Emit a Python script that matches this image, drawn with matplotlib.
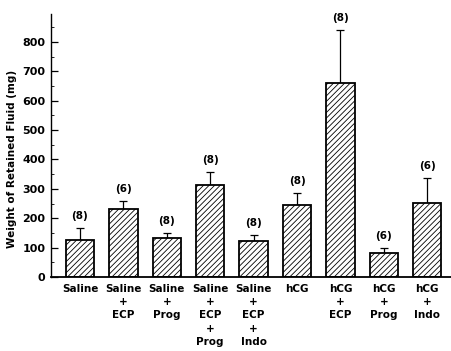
import numpy as np
import matplotlib
matplotlib.use("Agg")
import matplotlib.pyplot as plt
from matplotlib.ticker import MultipleLocator

plt.rcParams['font.family'] = ['Liberation Sans Narrow', 'DejaVu Sans']
plt.rcParams['hatch.linewidth'] = 0.6

groups = ["Saline", "Saline\n+\nECP", "Saline\n+\nProg", "Saline\n+\nECP\n+\nProg",
          "Saline\n+\nECP\n+\nIndo", "hCG", "hCG\n+\nECP", "hCG\n+\nProg", "hCG\n+\nIndo"]
means = [127, 232, 133, 313, 123, 245, 661, 82, 251]
upper = [167, 258, 149, 358, 143, 287, 842, 98, 336]
n_rats = [8, 6, 8, 8, 8, 8, 8, 6, 6]

errs = np.array(upper) - np.array(means)
x = np.arange(len(groups))

fig = plt.figure(figsize=(4.51, 3.51), dpi=100)
ax = fig.add_axes([51 / 451, 74 / 351, 400 / 451, 263 / 351])

ax.bar(x, means, width=0.65, color="white", edgecolor="black", linewidth=1.3,
       hatch="//////", zorder=2)
ax.errorbar(x, means, yerr=[np.zeros_like(errs), errs], fmt="none", ecolor="black",
            elinewidth=0.9, capsize=3, capthick=0.9, zorder=1)

# n per group above the error bars
for xi, top, n in zip(x, upper, n_rats):
    ax.annotate("(%d)" % n, (xi, top), xytext=(0, 5), textcoords="offset points",
                ha="center", va="bottom", fontsize=7.5, fontweight="bold")

ax.set_xlim(-0.668, 8.548)
ax.set_ylim(0, 895)
ax.yaxis.set_major_locator(MultipleLocator(100))
ax.yaxis.set_minor_locator(MultipleLocator(50))
ax.set_xticks(x)
ax.set_xticklabels(groups, fontsize=7.5, fontweight="bold", va="top", linespacing=1.4)
for lab in ax.get_yticklabels():
    lab.set_fontweight("bold")
ax.tick_params(axis="y", which="major", direction="in", length=5, width=0.9,
               labelsize=8, pad=4)
ax.tick_params(axis="y", which="minor", direction="in", length=2, width=0.6)
ax.tick_params(axis="x", length=0, pad=5)

ax.spines["top"].set_visible(False)
ax.spines["right"].set_visible(False)
ax.spines["left"].set_linewidth(1.0)
ax.spines["bottom"].set_linewidth(1.3)

ax.set_ylabel("Weight of Retained Fluid (mg)", fontsize=7.5, fontweight="bold")
ax.yaxis.set_label_coords(-0.085, 0.45)

fig.savefig("out.png", dpi=100)
